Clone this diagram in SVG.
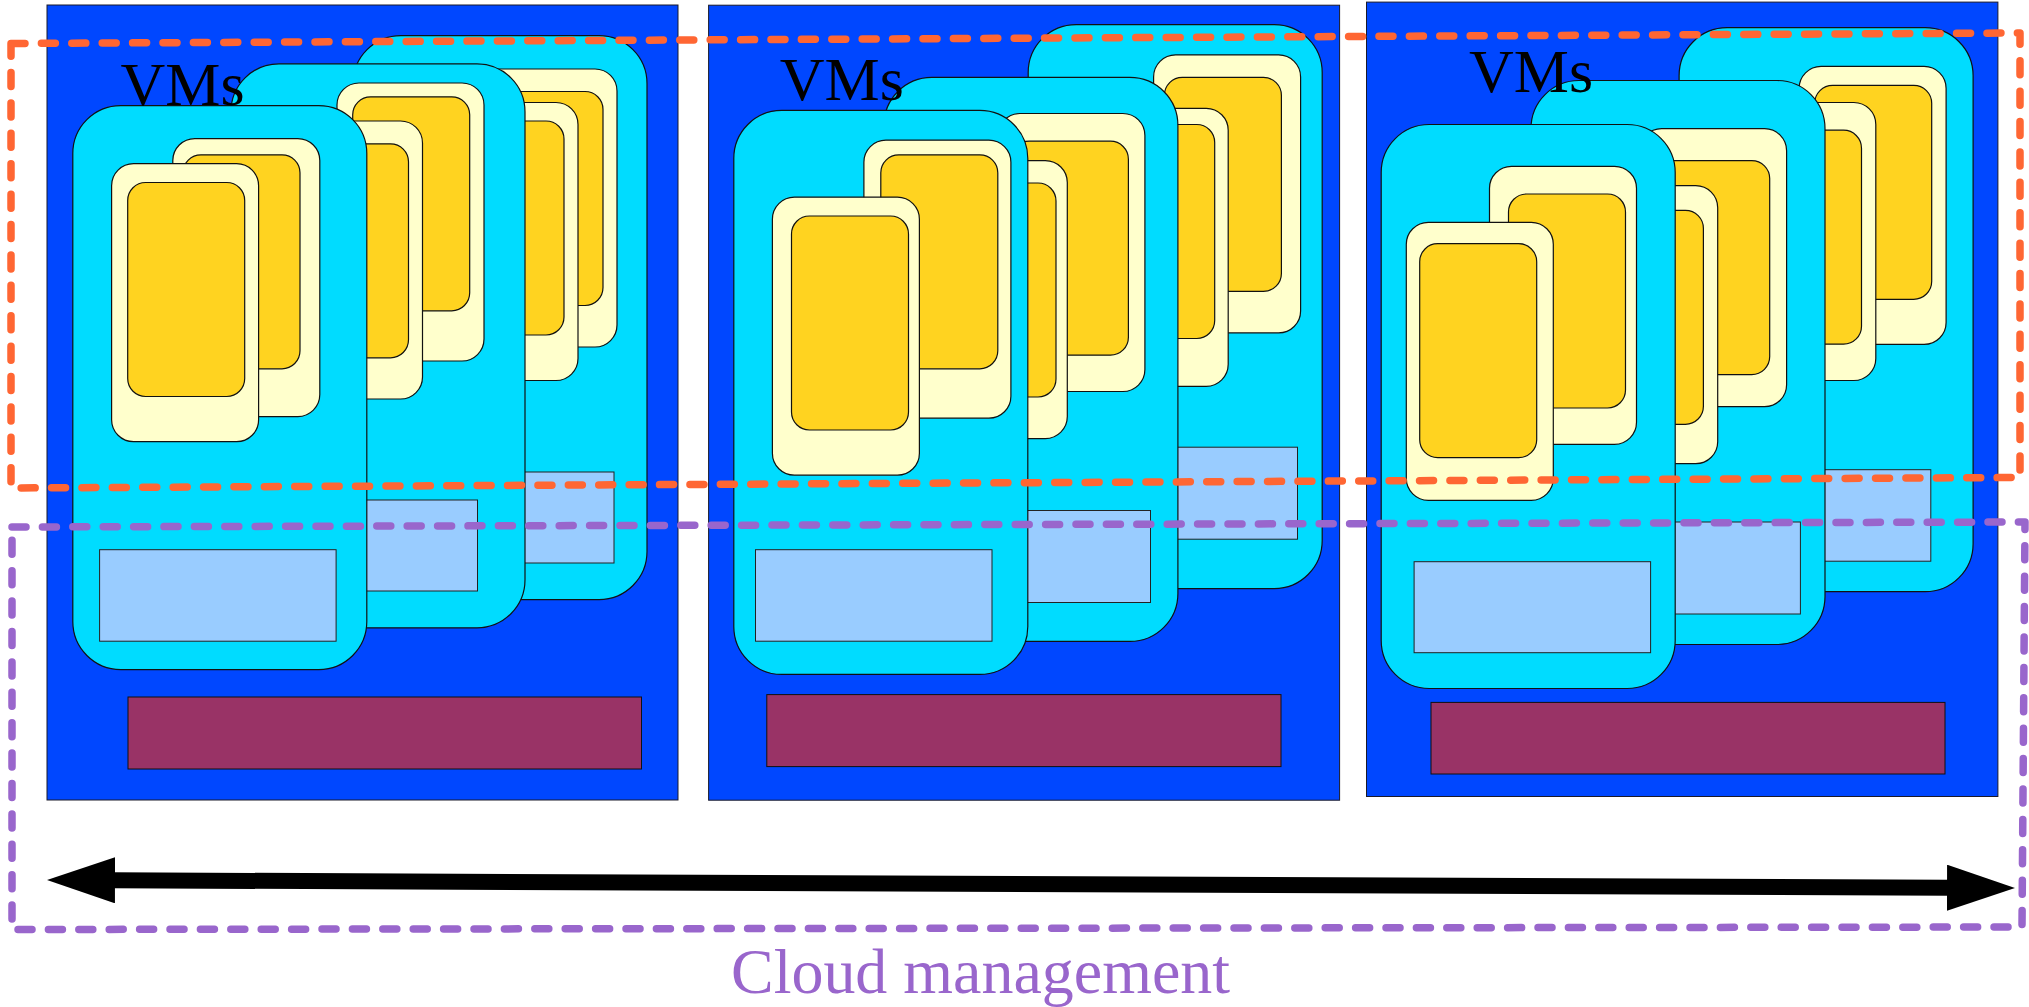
<svg xmlns="http://www.w3.org/2000/svg" xmlns:xlink="http://www.w3.org/1999/xlink" width="2029" height="1007" viewBox="0 0 2029 1007">
<style>
.srv{fill:#0047ff;stroke:#1a1a2a;stroke-width:1}
.vm{fill:#00dcff;stroke:#111;stroke-width:1.2}
.pale{fill:#ffffcc;stroke:#111;stroke-width:1.2}
.gold{fill:#ffd320;stroke:#111;stroke-width:1.2}
.lb{fill:#99ccff;stroke:#222;stroke-width:1}
.hv{fill:#993366;stroke:#111;stroke-width:1}
.lbl{font-family:"Liberation Serif","Times New Roman",serif;font-size:62px;fill:#000}
.orange{fill:none;stroke:#ff6633;stroke-width:7.5;stroke-dasharray:14 16.4;stroke-linecap:round;stroke-linejoin:round}
.purple{fill:none;stroke:#9966cc;stroke-width:7.5;stroke-dasharray:14 16.4;stroke-linecap:round;stroke-linejoin:round}
.cm{font-family:"Liberation Serif","Times New Roman",serif;font-size:63px;fill:#9966cc}
</style>
<defs>
<marker id="ah" markerUnits="userSpaceOnUse" markerWidth="70" markerHeight="46" refX="2" refY="23" orient="auto-start-reverse" viewBox="0 0 70 46">
<path d="M0,0 L68,23 L0,46 Z" fill="#000"/>
</marker>
</defs>

<g id="server1">
<rect class="srv" x="47" y="5" width="631" height="795"/>
<g id="s1-vm3">
<rect class="vm" x="353" y="35.6" width="294" height="564" rx="48"/>
<rect class="lb" x="377.5" y="472" width="236.5" height="91"/>
<rect class="pale" x="470" y="69" width="147" height="278" rx="22"/>
<rect class="gold" x="486" y="91.5" width="117" height="214" rx="18"/>
<rect class="pale" x="431" y="102.5" width="147" height="278" rx="22"/>
<rect class="gold" x="447" y="121" width="117" height="214" rx="18"/>
</g>
<g id="s1-vm2">
<rect class="vm" x="231" y="63.8" width="294" height="564" rx="48"/>
<rect class="lb" x="241" y="500" width="236.5" height="91"/>
<rect class="pale" x="337" y="83" width="147" height="278" rx="22"/>
<rect class="gold" x="352.7" y="96.8" width="117" height="214" rx="18"/>
<rect class="pale" x="275.5" y="121" width="147" height="278" rx="22"/>
<rect class="gold" x="291.5" y="143.8" width="117" height="214" rx="18"/>
</g>
<g id="s1-vm1">
<rect class="vm" x="72.8" y="105.6" width="294" height="564" rx="48"/>
<rect class="lb" x="99.6" y="549.7" width="236.5" height="91.5"/>
<rect class="pale" x="172.8" y="138.6" width="147" height="278" rx="22"/>
<rect class="gold" x="183" y="154.8" width="117" height="214" rx="18"/>
<rect class="pale" x="111.6" y="163.7" width="147" height="278" rx="22"/>
<rect class="gold" x="127.7" y="182.5" width="117" height="214" rx="18"/>
</g>
<rect class="hv" x="128" y="697" width="513.5" height="72"/>
<text class="lbl" x="120.5" y="104.6">VMs</text>
</g>

<g id="server2">
<rect class="srv" x="708.6" y="5.2" width="631" height="795"/>
<g id="s2-vm3">
<rect class="vm" x="1028.2" y="24.6" width="294" height="564" rx="48"/>
<rect class="lb" x="1061" y="447.2" width="236.5" height="92"/>
<rect class="pale" x="1153.6" y="54.9" width="147" height="278" rx="22"/>
<rect class="gold" x="1164.4" y="77.4" width="117" height="214" rx="18"/>
<rect class="pale" x="1081.2" y="108.3" width="147" height="278" rx="22"/>
<rect class="gold" x="1097.7" y="124.5" width="117" height="214" rx="18"/>
</g>
<g id="s2-vm2">
<rect class="vm" x="883.9" y="77.4" width="294" height="564" rx="48"/>
<rect class="lb" x="914" y="510.5" width="236.5" height="92"/>
<rect class="pale" x="997.9" y="113.5" width="147" height="278" rx="22"/>
<rect class="gold" x="1011.4" y="141.2" width="117" height="214" rx="18"/>
<rect class="pale" x="920.3" y="160.6" width="147" height="278" rx="22"/>
<rect class="gold" x="939" y="183" width="117" height="214" rx="18"/>
</g>
<g id="s2-vm1">
<rect class="vm" x="733.8" y="110.4" width="294" height="564" rx="48"/>
<rect class="lb" x="755.5" y="549.7" width="236.5" height="91.5"/>
<rect class="pale" x="863.9" y="140.2" width="147" height="278" rx="22"/>
<rect class="gold" x="880.8" y="154.8" width="117" height="214" rx="18"/>
<rect class="pale" x="772.4" y="197.2" width="147" height="278" rx="22"/>
<rect class="gold" x="791.5" y="216" width="117" height="214" rx="18"/>
</g>
<rect class="hv" x="766.8" y="694.6" width="514.2" height="72"/>
<text class="lbl" x="779.8" y="100.4">VMs</text>
</g>

<g id="server3">
<rect class="srv" x="1366.5" y="2.1" width="631.4" height="794.4"/>
<g id="s3-vm3">
<rect class="vm" x="1679.1" y="27.7" width="294" height="564" rx="48"/>
<rect class="lb" x="1694.3" y="469.7" width="236.5" height="91.5"/>
<rect class="pale" x="1799.1" y="66.4" width="147" height="278" rx="22"/>
<rect class="gold" x="1814.7" y="85.3" width="117" height="214" rx="18"/>
<rect class="pale" x="1728.8" y="102.5" width="147" height="278" rx="22"/>
<rect class="gold" x="1744.5" y="130.2" width="117" height="214" rx="18"/>
</g>
<g id="s3-vm2">
<rect class="vm" x="1531" y="80.5" width="294" height="564" rx="48"/>
<rect class="lb" x="1563.9" y="522" width="236.5" height="92"/>
<rect class="pale" x="1639.6" y="128.7" width="147" height="278" rx="22"/>
<rect class="gold" x="1652.7" y="160.6" width="117" height="214" rx="18"/>
<rect class="pale" x="1570.7" y="185.7" width="147" height="278" rx="22"/>
<rect class="gold" x="1586.4" y="210.3" width="117" height="214" rx="18"/>
</g>
<g id="s3-vm1">
<rect class="vm" x="1381.2" y="124.5" width="294" height="564" rx="48"/>
<rect class="lb" x="1414.1" y="561.7" width="236.5" height="91"/>
<rect class="pale" x="1489.5" y="166.3" width="147" height="278" rx="22"/>
<rect class="gold" x="1508.5" y="194" width="117" height="214" rx="18"/>
<rect class="pale" x="1406.3" y="222.3" width="147" height="278" rx="22"/>
<rect class="gold" x="1419.7" y="243.7" width="117" height="214" rx="18"/>
</g>
<rect class="hv" x="1431" y="702.4" width="514" height="71.6"/>
<text class="lbl" x="1469" y="91.5">VMs</text>
</g>

<g id="vm-boundary">
<polygon class="orange" points="11,43.5 2020,33 2020,477.5 11,488"/>
</g>

<g id="cloud-management">
<polygon class="purple" points="12,527 2025,522 2022,927 12,929.5"/>
<text class="cm" x="731" y="993" textLength="499" lengthAdjust="spacingAndGlyphs">Cloud management</text>
</g>

<g id="connectors">
<line x1="113" y1="880.3" x2="1949" y2="887.7" stroke="#000" stroke-width="16" marker-start="url(#ah)" marker-end="url(#ah)"/>
</g>
</svg>
